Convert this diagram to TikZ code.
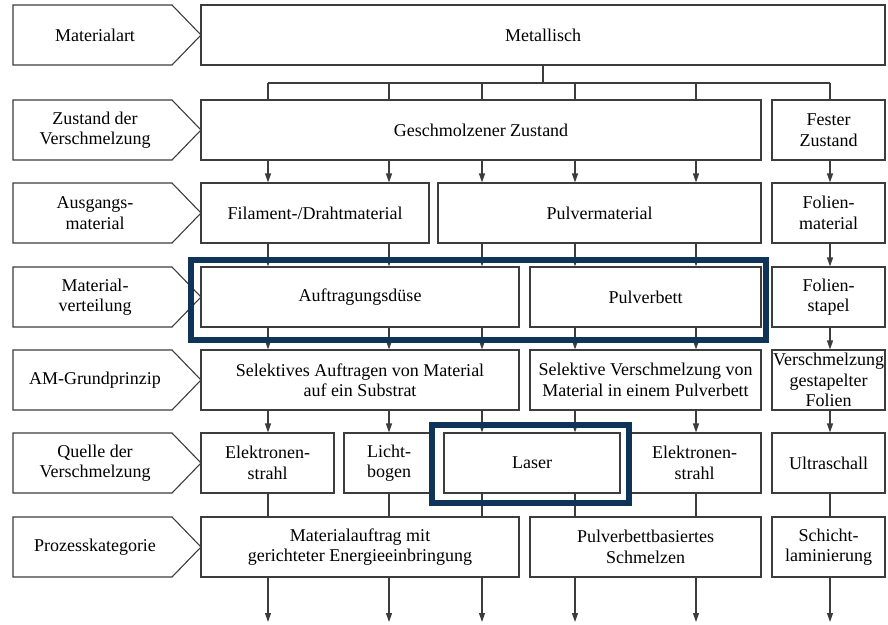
\documentclass[tikz,border=0pt]{standalone}
\usepackage{fontspec}
\setmainfont{Liberation Serif}
\usepackage{tikz}
\usetikzlibrary{arrows.meta}
\definecolor{hlblue}{RGB}{14,52,88}
\definecolor{lncol}{RGB}{60,60,60}

\begin{document}
\begin{tikzpicture}[x=1pt,y=-1pt,
  txt/.style={align=center,font=\fontsize{18}{20.5}\selectfont,inner sep=0pt},
  box/.style={txt,draw=lncol,line width=1.1pt,rectangle,minimum height=60pt},
  lab/.style={draw=lncol,line width=1.1pt,line join=miter},
  ln/.style={draw=lncol,line width=1.1pt},
  arr/.style={ln,-{Stealth[length=9pt,width=6pt,inset=0pt]}},
  hl/.style={draw=hlblue,line width=6pt}]
\useasboundingbox (0,0) rectangle (888,624);
% columns of the connectors
\foreach \i/\x in {1/268,2/389,3/482,4/575,5/696,6/830} {
  \coordinate (c\i) at (\x,0);
  \coordinate (e\i) at (\x,622);
}
% left labels
\foreach \y/\t [count=\i] in {35/Materialart, 130/{Zustand der\\Verschmelzung},
  213/{Ausgangs-\\material}, 297/{Material-\\verteilung}, 380/AM-Grundprinzip,
  463/{Quelle der\\Verschmelzung}, 547/Prozesskategorie} {
  \draw[lab] (13,\y-30) -- (172,\y-30) -- (201,\y) -- (172,\y+30) -- (13,\y+30) -- cycle;
  \node[txt] (l\i) at (95,\y) {\t};
}
% row 1
\node[box,minimum width=684pt] (metall) at (543,35) {Metallisch};
% row 2
\node[box,minimum width=560pt] (geschm) at (481,130) {Geschmolzener Zustand};
\node[box,minimum width=113pt] (fest) at (828.5,130) {Fester\\Zustand};
% row 3
\node[box,minimum width=228pt] (fil) at (315,213) {Filament-/Drahtmaterial};
\node[box,minimum width=323pt] (pulv) at (599.5,213) {Pulvermaterial};
\node[box,minimum width=113pt] (folm) at (828.5,213) {Folien-\\material};
% row 4
\node[box,minimum width=318pt] (duese) at (360,297) {Auftragungsdüse};
\node[box,minimum width=231pt] (pbett) at (645.5,297) {Pulverbett};
\node[box,minimum width=113pt] (folst) at (828.5,297) {Folien-\\stapel};
% row 5
\node[box,minimum width=318pt] (selauf) at (360,380) {Selektives Auftragen von Material\\auf ein Substrat};
\node[box,minimum width=231pt] (selver) at (645.5,380) {Selektive Verschmelzung von\\Material in einem Pulverbett};
\node[box,minimum width=113pt] (versch) at (828.5,380) {Verschmelzung\\gestapelter\\Folien};
% row 6
\node[box,minimum width=133pt] (elek1) at (267.5,463) {Elektronen-\\strahl};
\node[box,minimum width=90pt] (licht) at (389,463) {Licht-\\bogen};
\node[box,minimum width=176pt] (laser) at (532,463) {Laser};
\node[box,minimum width=133pt] (elek2) at (694.5,463) {Elektronen-\\strahl};
\node[box,minimum width=113pt] (ultra) at (828.5,463) {Ultraschall};
% row 7
\node[box,minimum width=318pt] (mat) at (360,547) {Materialauftrag mit\\gerichteter Energieeinbringung};
\node[box,minimum width=231pt] (pbb) at (645.5,547) {Pulverbettbasiertes\\Schmelzen};
\node[box,minimum width=113pt] (schicht) at (828.5,547) {Schicht-\\laminierung};
% bus under Metallisch
\coordinate (bus) at (543,83);
\draw[ln] (metall.south) -- (bus);
\draw[ln] (c1 |- bus) -- (c6 |- bus);
\foreach \c in {c1,c2,c3,c4,c5} \draw[ln] (\c |- bus) -- (geschm.north -| \c);
\draw[ln] (c6 |- bus) -- (fest.north -| c6);
% arrows between the rows
\foreach \a/\b/\c in {geschm/fil/c1, geschm/fil/c2, geschm/pulv/c3, geschm/pulv/c4, geschm/pulv/c5, fest/folm/c6,
  fil/duese/c1, fil/duese/c2, pulv/duese/c3, pulv/pbett/c4, pulv/pbett/c5, folm/folst/c6,
  duese/selauf/c1, duese/selauf/c2, duese/selauf/c3, pbett/selver/c4, pbett/selver/c5, folst/versch/c6,
  selauf/elek1/c1, selauf/licht/c2, selauf/laser/c3, selver/laser/c4, selver/elek2/c5, versch/ultra/c6}
  \draw[arr] (\a.south -| \c) -- (\b.north -| \c);
\foreach \a/\b/\c in {elek1/mat/c1, licht/mat/c2, laser/mat/c3, laser/pbb/c4, elek2/pbb/c5, ultra/schicht/c6}
  \draw[ln] (\a.south -| \c) -- (\b.north -| \c);
\foreach \a/\i in {mat/1, mat/2, mat/3, pbb/4, pbb/5, schicht/6}
  \draw[arr] (\a.south -| c\i) -- (e\i);
% highlights
\draw[hl] (191,259.5) rectangle (765.5,339.5);
\draw[hl] (432,425) rectangle (629,503);
\end{tikzpicture}
\end{document}
